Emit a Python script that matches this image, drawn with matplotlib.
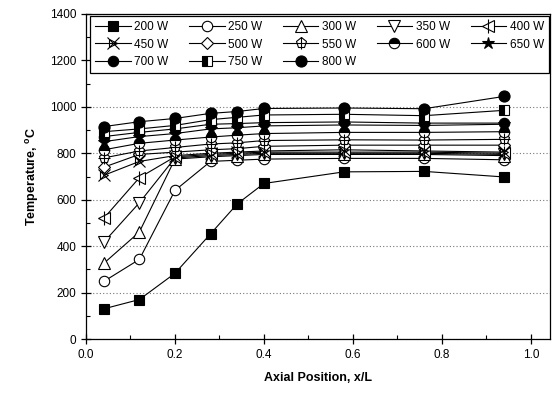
import matplotlib
matplotlib.use("Agg")
import matplotlib.pyplot as plt
from matplotlib.ticker import MultipleLocator, FormatStrFormatter

plt.rcParams['font.family'] = ['Liberation Sans', 'DejaVu Sans']
plt.rcParams['mathtext.fontset'] = 'custom'
plt.rcParams['mathtext.rm'] = 'Liberation Sans'
plt.rcParams['mathtext.bf'] = 'Liberation Sans:bold'

x = [0.04, 0.12, 0.20, 0.28, 0.34, 0.40, 0.58, 0.76, 0.94]

labels = ["200 W", "250 W", "300 W", "350 W", "400 W", "450 W", "500 W",
          "550 W", "600 W", "650 W", "700 W", "750 W", "800 W"]

t200 = [130, 170, 283, 453, 582, 670, 720, 722, 698]
t250 = [248, 343, 640, 765, 770, 775, 778, 778, 772]
t300 = [326, 461, 775, 785, 790, 795, 795, 795, 790]
t350 = [417, 587, 780, 790, 795, 800, 800, 800, 795]
t400 = [520, 695, 785, 795, 800, 805, 805, 805, 800]
t450 = [705, 765, 790, 800, 805, 810, 815, 810, 805]
t500 = [740, 795, 805, 815, 820, 830, 835, 835, 835]
t550 = [780, 810, 825, 840, 845, 855, 858, 857, 860]
t600 = [815, 843, 857, 870, 878, 885, 890, 890, 893]
t650 = [850, 872, 885, 905, 910, 918, 922, 920, 925]
t700 = [872, 890, 905, 925, 928, 932, 935, 930, 930]
t750 = [893, 905, 920, 945, 955, 965, 968, 962, 985]
t800 = [915, 936, 950, 972, 980, 993, 995, 992, 1045]

series = [t200, t250, t300, t350, t400, t450, t500, t550, t600, t650, t700, t750, t800]

W = 553 / 100.0
H = 394 / 100.0
fig = plt.figure(figsize=(W, H), dpi=100)
ax = fig.add_axes([86 / 553, 55 / 394, (550 - 86) / 553, (339 - 14) / 394])

lw = 0.8
ms = 7
common = dict(color='black', lw=lw, markeredgecolor='black', markeredgewidth=0.8)

styles = [
    dict(marker='s', markerfacecolor='black', ms=6.5),
    dict(marker='o', markerfacecolor='white', ms=7.5),
    dict(marker='^', markerfacecolor='white', ms=8),
    dict(marker='v', markerfacecolor='white', ms=8),
    dict(marker='<', markerfacecolor='white', ms=8),
    dict(marker='x', ms=9),
    dict(marker='D', markerfacecolor='white', ms=6.5),
    dict(marker='p', markerfacecolor='white', ms=8),
    dict(marker='o', fillstyle='top', markerfacecolor='black', markerfacecoloralt='white', ms=7.5),
    dict(marker='*', markerfacecolor='black', ms=9),
    dict(marker='o', markerfacecolor='black', ms=7.5),
    dict(marker='s', fillstyle='left', markerfacecolor='black', markerfacecoloralt='white', ms=7),
    dict(marker='o', markerfacecolor='black', ms=8),
]
extras = {4: dict(marker='|', ms=10), 5: dict(marker='>', markerfacecolor='none', ms=6),
          7: dict(marker='+', ms=8)}

handles = []
for i, (y, st) in enumerate(zip(series, styles)):
    kw = dict(common)
    kw.update(st)
    ln, = ax.plot(x, y, label=labels[i], zorder=3, **kw)
    if i in extras:
        ek = dict(color='black', lw=0, markeredgecolor='black', markeredgewidth=0.8)
        ek.update(extras[i])
        ex, = ax.plot(x, y, zorder=3.1, **ek)
        handles.append((ln, ex))
    else:
        handles.append(ln)

ax.set_xlim(0, 1.043)
ax.set_ylim(0, 1400)
ax.xaxis.set_major_locator(MultipleLocator(0.2))
ax.xaxis.set_minor_locator(MultipleLocator(0.1))
ax.xaxis.set_major_formatter(FormatStrFormatter('%.1f'))
ax.yaxis.set_major_locator(MultipleLocator(200))
ax.yaxis.set_minor_locator(MultipleLocator(100))

ax.tick_params(which='major', direction='inout', length=7, width=0.9, labelsize=8.5, top=False, right=False)
ax.tick_params(which='minor', direction='in', length=3, width=0.8, top=False, right=False)
for s in ax.spines.values():
    s.set_linewidth(0.9)

ax.yaxis.grid(True, which='major', linestyle=(0, (1, 2)), color='#777777', lw=0.8)
ax.set_axisbelow(True)

ax.set_xlabel('Axial Position, x/L', fontsize=9, fontweight='bold', labelpad=8)
ax.set_ylabel(r'Temperature, $\mathbf{^{o}}$C', fontsize=9, fontweight='bold', labelpad=6)

order = [0, 5, 10, 1, 6, 11, 2, 7, 12, 3, 8, 4, 9]
leg = ax.legend([handles[i] for i in order], [labels[i] for i in order],
                ncol=5, loc='upper left', bbox_to_anchor=(0.009, 0.994, 0.989, 0.0),
                mode='expand', borderaxespad=0, fontsize=8.5, handlelength=3.0,
                handletextpad=0.3, columnspacing=0.6, labelspacing=0.45,
                fancybox=False, framealpha=1, edgecolor='black', borderpad=0.45)
leg.get_frame().set_linewidth(0.9)

fig.savefig('out.png', dpi=100)
